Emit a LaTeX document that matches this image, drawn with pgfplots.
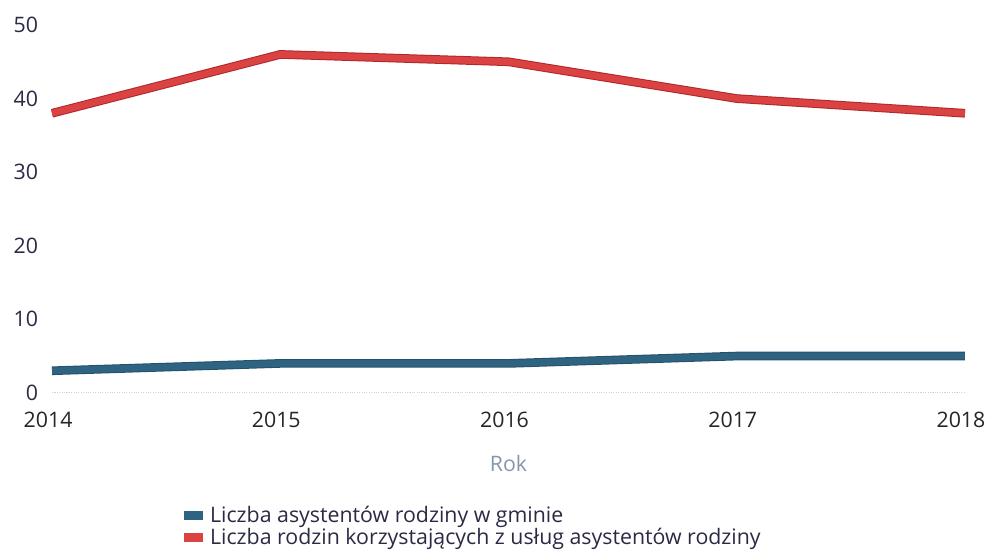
\documentclass[border=0pt]{standalone}
\usepackage{pgfplots}
\pgfplotsset{compat=1.18}
\usepackage{fontspec}
\setmainfont{Open Sans}
\definecolor{redl}{HTML}{DB4242}
\definecolor{redd}{HTML}{B0262B}
\definecolor{bluel}{HTML}{2E6482}
\definecolor{blued}{HTML}{24506C}
\definecolor{labc}{HTML}{2A2A44}
\definecolor{rokc}{HTML}{8596AC}
\begin{document}
\begin{tikzpicture}
\begin{axis}[
  scale only axis,
  width=685pt, height=276pt,
  xmin=2014, xmax=2018, ymin=0, ymax=50,
  xtick={2014,2015,2016,2017,2018},
  ytick={0,10,20,30,40,50},
  x tick label style={/pgf/number format/1000 sep={}},
  /pgf/number format/assume math mode=true,
  tick label style={font=\fontsize{16}{18}\selectfont, text=labc},
  xticklabel style={yshift=-11pt, xshift=-3pt, text=black!85},
  yticklabel style={xshift=-7pt},
  major tick length=0pt,
  axis lines=left,
  x axis line style={-, densely dotted, gray!35, line width=0.8pt},
  y axis line style={draw=none},
  xlabel={Rok},
  xlabel style={font=\fontsize{16}{18}\selectfont, text=rokc, yshift=-13.5pt},
  clip=false,
  legend cell align=left,
  legend style={draw=none, fill=none, at={(axis description cs:0.14,-0.30)}, anchor=north west,
    font=\fontsize{16}{18}\selectfont, text=labc, row sep=-1pt, inner sep=0pt},
  legend image code/.code={\draw[#1, line width=6.5pt, line cap=butt] (0pt,0pt) -- (14pt,0pt);},
]
\path (rel axis cs:-0.057,-0.424) rectangle (rel axis cs:1.0318,1.068);
\addplot[blued, line width=6.5pt, line join=round, line cap=butt, forget plot] coordinates {(2014,3) (2015,4) (2016,4) (2017,5) (2018,5)};
\addplot[bluel, line width=5pt, line join=round, line cap=butt] coordinates {(2014,3) (2015,4) (2016,4) (2017,5) (2018,5)};
\addlegendentry{Liczba asystentów rodziny w gminie}
\addplot[redd, line width=6.5pt, line join=round, line cap=butt, forget plot] coordinates {(2014,38) (2015,46) (2016,45) (2017,40) (2018,38)};
\addplot[redl, line width=5pt, line join=round, line cap=butt] coordinates {(2014,38) (2015,46) (2016,45) (2017,40) (2018,38)};
\addlegendentry{Liczba rodzin korzystających z usług asystentów rodziny}
\end{axis}
\end{tikzpicture}
\end{document}
